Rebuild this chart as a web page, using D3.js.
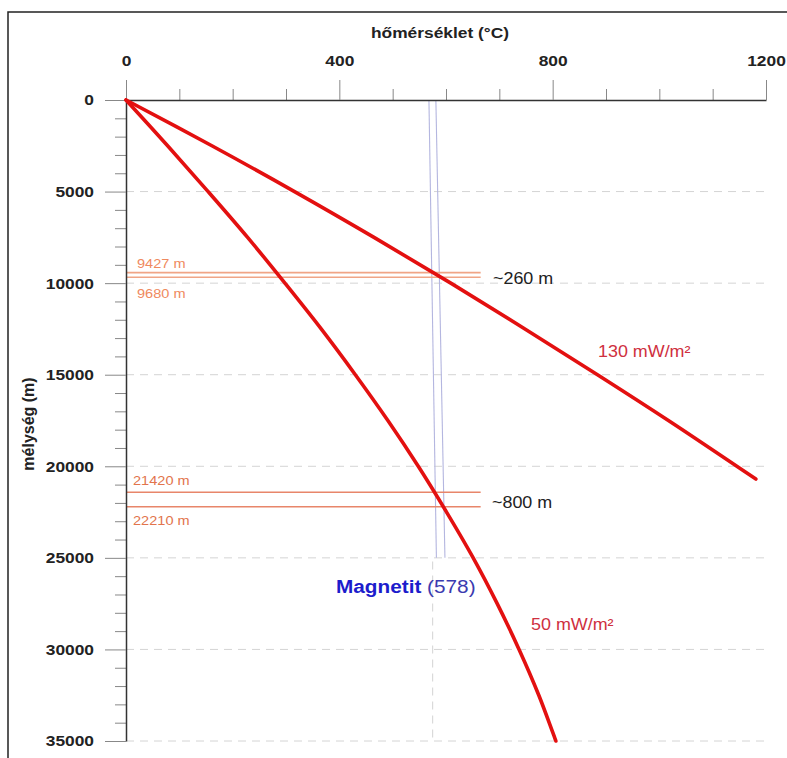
<!DOCTYPE html>
<html>
<head>
<meta charset="utf-8">
<script src="https://cdn.jsdelivr.net/npm/d3@7"></script>
<style>
  html, body { margin: 0; padding: 0; background: #fff; }
  svg { display: block; font-family: "Liberation Sans", Arial, sans-serif; }
</style>
</head>
<body>
<svg id="chart" width="787" height="758"></svg>
<script>
// ---------- data ----------
const tempMajorTicks = [0, 400, 800, 1200];
const tempMinorTicks = [100, 200, 300, 500, 600, 700, 900, 1000, 1100];
const depthMajorTicks = [0, 5000, 10000, 15000, 20000, 25000, 30000, 35000];
const depthMinorTicks = [1000,2000,3000,4000,6000,7000,8000,9000,11000,12000,13000,14000,16000,17000,18000,19000,21000,22000,23000,24000,26000,27000,28000,29000,31000,32000,33000,34000];
const gridDepths = [5000, 10000, 15000, 20000, 25000, 30000, 35000];

const depth130 = [0, 2500, 5000, 7500, 10000, 12500, 15000, 17500, 20700];
const temp130  = [0, 161, 316, 465, 609, 748, 884, 1017, 1181];

const depth50 = [0, 2500, 5000, 7500, 10000, 12500, 15000, 17500, 20000, 22500, 25000, 27500, 30000, 32500, 35000];
const temp50  = [0, 78, 154, 228, 298, 366, 430, 491, 548, 601, 651, 696, 737, 774, 806];

const magDepth = [0, 25000];
const magLeftT = [568, 582];
const magRightT = [581, 598];
const magDashT = 575;
const magDashDepth = [25200, 35000];
const curieLabel = "(578)";

const bandsUpper = [9427, 9680];
const bandsLower = [21420, 22210];
const bandEndT = 665;

// ---------- setup ----------
const svg = d3.select("#chart");
const SX = 1.12;
const x = d3.scaleLinear().domain([0, 1200]).range([126, 766]);
const y = d3.scaleLinear().domain([0, 35000]).range([100, 741]);

svg.append("rect").attr("x", 0).attr("y", 0).attr("width", 787).attr("height", 758).attr("fill", "#fff");
svg.append("rect").attr("x", 8).attr("y", 12).attr("width", 800).attr("height", 780)
  .attr("fill", "none").attr("stroke", "#222").attr("stroke-width", 1.5);

function label(px, py, str, size, weight, color, anchor) {
  return svg.append("text")
    .attr("transform", `translate(${px},${py}) scale(${SX},1)`)
    .attr("text-anchor", anchor || "start")
    .attr("font-size", size).attr("font-weight", weight || "normal")
    .attr("fill", color).text(str);
}

// gridlines
svg.append("g").selectAll("line").data(gridDepths).join("line")
  .attr("x1", x(0)).attr("x2", x(1203))
  .attr("y1", d => y(d)).attr("y2", d => y(d))
  .attr("stroke", "#d4d4d4").attr("stroke-width", 1).attr("stroke-dasharray", "8,6");

// vertical dashed (magnetite below 25 km)
svg.append("line")
  .attr("x1", x(magDashT)).attr("x2", x(magDashT))
  .attr("y1", y(magDashDepth[0])).attr("y2", y(magDashDepth[1]))
  .attr("stroke", "#d4d4d4").attr("stroke-width", 1).attr("stroke-dasharray", "8,6");

// magnetite lines
[magLeftT, magRightT].forEach(arr => {
  svg.append("line")
    .attr("x1", x(arr[0])).attr("y1", y(magDepth[0]))
    .attr("x2", x(arr[1])).attr("y2", y(magDepth[1]))
    .attr("stroke", "#b4b6e0").attr("stroke-width", 1.1);
});

// band lines
svg.append("g").selectAll("line").data(bandsUpper).join("line")
  .attr("x1", x(0)).attr("x2", x(bandEndT))
  .attr("y1", d => y(d)).attr("y2", d => y(d))
  .attr("stroke", "#f0a586").attr("stroke-width", 1.6);
svg.append("g").selectAll("line").data(bandsLower).join("line")
  .attr("x1", x(0)).attr("x2", x(bandEndT))
  .attr("y1", d => y(d)).attr("y2", d => y(d))
  .attr("stroke", "#e8866a").attr("stroke-width", 1.4);

// axes
const axisStyle = g => {
  g.select(".domain").attr("stroke", "#333").attr("stroke-width", 1.5);
  g.selectAll(".tick line").attr("stroke", "#888").attr("stroke-width", 1);
};

const topMinor = svg.append("g").attr("transform", `translate(0,${y(0)})`)
  .call(d3.axisTop(x).tickValues(tempMinorTicks).tickSize(11).tickSizeOuter(0).tickFormat(""));
topMinor.select(".domain").remove();
topMinor.selectAll(".tick line").attr("stroke", "#888");

const topMajor = svg.append("g").attr("transform", `translate(0,${y(0)})`)
  .call(d3.axisTop(x).tickValues(tempMajorTicks).tickSize(20).tickSizeOuter(0).tickPadding(14).tickFormat(d3.format("d")));
axisStyle(topMajor);
topMajor.selectAll(".tick text")
  .attr("font-size", 15.5).attr("font-weight", "bold").attr("fill", "#222")
  .attr("font-family", "Liberation Sans, Arial, sans-serif")
  .attr("transform", `scale(${SX},1)`);

const leftMinor = svg.append("g").attr("transform", `translate(${x(0)},0)`)
  .call(d3.axisLeft(y).tickValues(depthMinorTicks).tickSize(11).tickSizeOuter(0).tickFormat(""));
leftMinor.select(".domain").remove();
leftMinor.selectAll(".tick line").attr("stroke", "#888");

const leftMajor = svg.append("g").attr("transform", `translate(${x(0)},0)`)
  .call(d3.axisLeft(y).tickValues(depthMajorTicks).tickSize(21).tickSizeOuter(0).tickPadding(11).tickFormat(d3.format("d")));
axisStyle(leftMajor);
leftMajor.selectAll(".tick text")
  .attr("x", 0)
  .attr("transform", `translate(-32,0) scale(${SX},1)`)
  .attr("font-size", 15.5).attr("font-weight", "bold").attr("fill", "#222")
  .attr("font-family", "Liberation Sans, Arial, sans-serif");

// axis titles
label(440, 38, "hőmérséklet (°C)", 15.5, "bold", "#222", "middle");
svg.append("text")
  .attr("transform", "translate(34,424) rotate(-90)")
  .attr("text-anchor", "middle").attr("font-size", 16).attr("font-weight", "bold")
  .attr("fill", "#222").text("mélység (m)");

// curves
const line = d3.line().x(d => x(d[0])).y(d => y(d[1])).curve(d3.curveCatmullRom.alpha(0.5));
svg.append("path").datum(temp130.map((t, i) => [t, depth130[i]]))
  .attr("d", line).attr("fill", "none").attr("stroke", "#e31010")
  .attr("stroke-width", 3.6).attr("stroke-linecap", "round");
svg.append("path").datum(temp50.map((t, i) => [t, depth50[i]]))
  .attr("d", line).attr("fill", "none").attr("stroke", "#e31010")
  .attr("stroke-width", 3.6).attr("stroke-linecap", "round");

// annotations
label(137, 268, "9427 m", 13, "normal", "#ef8a5e");
label(137, 298, "9680 m", 13, "normal", "#ef8a5e");
label(133, 485, "21420 m", 13, "normal", "#e2744c");
label(133, 525, "22210 m", 13, "normal", "#e2744c");
label(493, 284, "~260 m", 16, "normal", "#222");
label(492, 508, "~800 m", 16, "normal", "#222");
label(598, 357, "130 mW/m²", 16, "normal", "#cf3040");
label(531, 630, "50 mW/m²", 16, "normal", "#cf3040");

const mag = svg.append("text")
  .attr("transform", `translate(336,593) scale(${SX * 1.03},1)`)
  .attr("font-size", 18);
mag.append("tspan").attr("font-weight", "bold").attr("fill", "#1c1ccc").text("Magnetit ");
mag.append("tspan").attr("fill", "#3b3bb0").text(curieLabel);
</script>
</body>
</html>
